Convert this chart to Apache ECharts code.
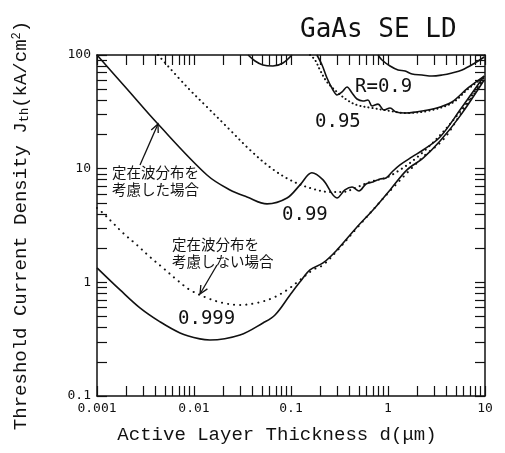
<!DOCTYPE html>
<html><head><meta charset="utf-8">
<script src="https://cdn.jsdelivr.net/npm/echarts@6/dist/echarts.min.js"></script>
<style>html,body{margin:0;padding:0;background:#fff}#c{width:505px;height:453px}</style>
</head><body><div id="c"></div>
<script>
// Tick labels
const xTickLabels = ['0.001', '0.01', '0.1', '1', '10'];
const yTickLabels = ['0.1', '1', '10', '100'];

// Curves: d (um) and Jth (kA/cm^2)
// R = 0.99, with standing-wave distribution (solid)
const r099SolidD = [0.001, 0.00204, 0.00416, 0.0136, 0.0235, 0.0352, 0.0566, 0.091, 0.124, 0.164, 0.214, 0.298, 0.360, 0.426, 0.502, 0.593, 0.700, 0.828, 0.954, 1.10, 1.33, 1.77, 2.30, 3.44, 5.52, 9.8];
const r099SolidJ = [100, 50.2, 25.2, 8.8, 6.5, 5.64, 4.9, 5.52, 7.2, 9.2, 7.96, 5.52, 6.5, 6.9, 6.37, 7.33, 7.64, 8.11, 8.28, 9.35, 10.8, 12.7, 14.6, 19.0, 32.8, 65.3];
// R = 0.99, without standing wave (dotted)
const r099DotD = [0.00426, 0.00847, 0.0136, 0.0235, 0.0378, 0.0608, 0.0977, 0.157, 0.252, 0.344, 0.457, 0.652, 1.05, 2.30, 5.52, 9.8];
const r099DotJ = [100, 52.3, 34.9, 21.9, 14.6, 10.3, 7.96, 6.76, 6.24, 6.24, 6.76, 7.64, 8.64, 14.0, 31.5, 64.1];

// R = 0.999 (solid)
const r0999SolidD = [0.001, 0.00173, 0.00277, 0.00447, 0.00718, 0.0115, 0.0146, 0.0298, 0.0514, 0.0684, 0.0977, 0.124, 0.157, 0.214, 0.298, 0.479, 0.700, 1.05, 1.57, 2.30, 3.44, 5.52, 9.8];
const r0999SolidJ = [1.34, 0.857, 0.596, 0.449, 0.359, 0.318, 0.311, 0.344, 0.439, 0.516, 0.774, 1.01, 1.29, 1.48, 1.93, 3.07, 4.33, 6.5, 9.75, 12.4, 17.5, 29.0, 60.3];
// R = 0.999 (dotted)
const r0999DotD = [0.001, 0.00115, 0.00146, 0.00185, 0.00258, 0.00352, 0.00479, 0.00668, 0.0091, 0.0136, 0.0199, 0.0298, 0.0446, 0.0651, 0.091, 0.124, 0.169, 0.214, 0.298, 0.479, 1.05, 2.30, 3.69, 5.52, 9.8];
const r0999DotJ = [4.51, 4.07, 3.33, 2.72, 2.13, 1.67, 1.34, 1.05, 0.857, 0.730, 0.659, 0.633, 0.659, 0.730, 0.857, 1.05, 1.29, 1.42, 1.89, 3.01, 6.37, 12.7, 17.9, 29.6, 61.5];

// R = 0.95 (solid, two visible parts)
const r095SolidAD = [0.0361, 0.0426, 0.0514, 0.0651, 0.0827, 0.102];
const r095SolidAJ = [100, 88.6, 81.6, 80.0, 85.1, 100];
const r095SolidBD = [0.185, 0.209, 0.235, 0.271, 0.298, 0.336, 0.378, 0.426, 0.479, 0.552, 0.622, 0.684, 0.789, 0.910, 1.05, 1.21, 1.50, 1.94, 2.58, 3.44, 4.57, 6.68, 9.8];
const r095SolidBJ = [100, 81.6, 62.8, 49.2, 44.5, 47.3, 52.3, 46.4, 41.0, 39.4, 40.2, 35.6, 37.0, 32.8, 34.2, 31.5, 30.9, 31.5, 32.8, 34.9, 38.6, 51.3, 65.3];
// R = 0.95 (dotted)
const r095DotD = [0.157, 0.177, 0.199, 0.235, 0.298, 0.378, 0.479, 0.684, 1.05, 1.50, 2.58, 4.57, 6.68, 9.8];
const r095DotJ = [100, 90.4, 73.8, 57.9, 47.3, 40.2, 36.3, 34.2, 32.2, 30.9, 32.2, 37.8, 50.2, 64.1];

// R = 0.9 (solid)
const r09SolidD = [0.789, 0.867, 1.05, 1.27, 1.50, 1.77, 2.24, 2.84, 3.61, 4.57, 5.80, 7.89, 9.8];
const r09SolidJ = [100, 90.4, 80.0, 73.8, 72.3, 68.0, 66.7, 65.3, 66.7, 69.5, 73.8, 85.1, 96];

const zip = (a, b) => a.map((v, i) => [v, b[i]]);

const decades = [0.001, 0.01, 0.1, 1];
const xTicks = [];
decades.forEach(d => { for (let k = 1; k <= 9; k++) xTicks.push(+(k * d).toPrecision(3)); });
xTicks.push(10);
const yTicks = [];
[0.1, 1, 10].forEach(d => { for (let k = 1; k <= 9; k++) yTicks.push(+(k * d).toPrecision(3)); });
yTicks.push(100);

const mono = 'DejaVu Sans Mono';
const black = '#111';

function solid(name, d, j, w) {
  return { name, type: 'line', data: zip(d, j), showSymbol: false, smooth: 0.35, clip: true,
    lineStyle: { color: black, width: w || 1.6 }, z: 3 };
}
function dotted(name, d, j, gap) {
  return { name, type: 'line', data: zip(d, j), showSymbol: false, smooth: 0.35, clip: true,
    lineStyle: { color: black, width: 2, type: [0.1, gap], cap: 'round' }, z: 2 };
}

function axisX(pos, showLabel) {
  return {
    type: 'log', logBase: 10, min: 0.001, max: 10, position: pos,
    axisLine: { show: true, onZero: false, lineStyle: { color: black, width: 1.5 } },
    axisTick: { show: true, inside: true, length: 10, customValues: xTicks, lineStyle: { color: black, width: 1.2 } },
    splitLine: { show: false }, minorTick: { show: false },
    axisLabel: { show: showLabel, color: black, fontFamily: mono, fontSize: 13, margin: 6,
      formatter: v => xTickLabels[Math.round(Math.log10(v)) + 3] },
    name: showLabel ? 'Active Layer Thickness d(μm)' : '',
    nameLocation: 'middle', nameGap: 29,
    nameTextStyle: { fontFamily: 'Liberation Mono', fontSize: 19, color: black, padding: [0, 28, 0, 0] }
  };
}
function axisY(pos, showLabel) {
  return {
    type: 'log', logBase: 10, min: 0.1, max: 100, position: pos,
    axisLine: { show: true, onZero: false, lineStyle: { color: black, width: 1.5 } },
    axisTick: { show: true, inside: true, length: 10, customValues: yTicks, lineStyle: { color: black, width: 1.2 } },
    splitLine: { show: false }, minorTick: { show: false },
    axisLabel: { show: showLabel, color: black, fontFamily: mono, fontSize: 13, margin: 6,
      formatter: v => yTickLabels[Math.round(Math.log10(v)) + 1] },
    name: showLabel ? 'Threshold Current Density J{sub|th}(kA/cm{sup|2})' : '',
    nameLocation: 'middle', nameGap: 66, nameRotate: 90,
    nameTextStyle: { fontFamily: 'Liberation Mono', fontSize: 19, color: black,
      rich: { sub: { fontFamily: 'Liberation Mono', fontSize: 12, color: black, verticalAlign: 'bottom', padding: [8, 0, 0, 0] },
              sup: { fontFamily: 'Liberation Mono', fontSize: 12, color: black, verticalAlign: 'top', padding: [0, 0, 8, 0] } } }
  };
}

function arrow(x1, y1, x2, y2) {
  const dx = x1 - x2, dy = y1 - y2, L = Math.hypot(dx, dy);
  const ux = dx / L, uy = dy / L, a = 25 * Math.PI / 180, s = 9;
  const r = (ang) => [x2 + s * (ux * Math.cos(ang) - uy * Math.sin(ang)), y2 + s * (ux * Math.sin(ang) + uy * Math.cos(ang))];
  return [
    { type: 'line', shape: { x1, y1, x2, y2 }, style: { stroke: black, lineWidth: 1.3 } },
    { type: 'polyline', shape: { points: [r(a), [x2, y2], r(-a)] }, style: { stroke: black, lineWidth: 1.3, fill: null } }
  ];
}

const chart = echarts.init(document.getElementById('c'), null, { renderer: 'canvas' });
chart.setOption({
  animation: false,
  backgroundColor: '#fff',
  grid: { left: 97, right: 20, top: 55, bottom: 57, containLabel: false },
  xAxis: [axisX('bottom', true), axisX('top', false)],
  yAxis: [axisY('left', true), axisY('right', false)],
  series: [
    solid('R=0.99 standing wave', r099SolidD, r099SolidJ),
    dotted('R=0.99 no standing wave', r099DotD, r099DotJ, 5),
    solid('R=0.999 standing wave', r0999SolidD, r0999SolidJ),
    dotted('R=0.999 no standing wave', r0999DotD, r0999DotJ, 6),
    solid('R=0.95 standing wave (a)', r095SolidAD, r095SolidAJ),
    solid('R=0.95 standing wave (b)', r095SolidBD, r095SolidBJ),
    dotted('R=0.95 no standing wave', r095DotD, r095DotJ, 4),
    solid('R=0.9 standing wave', r09SolidD, r09SolidJ)
  ],
  graphic: [
    { type: 'text', left: 300, top: 17, style: { text: 'GaAs SE LD', font: '26px "DejaVu Sans Mono"', fill: black } },
    { type: 'text', left: 112, top: 164, style: { text: '定在波分布を\n考慮した場合', font: '14.5px "Noto Sans CJK JP"', lineHeight: 17, fill: black } },
    { type: 'text', left: 172, top: 236, style: { text: '定在波分布を\n考慮しない場合', font: '14.5px "Noto Sans CJK JP"', lineHeight: 17, fill: black } },
    { type: 'text', left: 282, top: 206, style: { text: '0.99', font: '19px "DejaVu Sans Mono"', fill: black } },
    { type: 'text', left: 178, top: 310, style: { text: '0.999', font: '19px "DejaVu Sans Mono"', fill: black } },
    { type: 'text', left: 315, top: 113, style: { text: '0.95', font: '19px "DejaVu Sans Mono"', fill: black } },
    { type: 'text', left: 355, top: 78, style: { text: 'R=0.9', font: '19px "DejaVu Sans Mono"', fill: black } },
    ...arrow(140, 165, 158, 124),
    ...arrow(217, 265, 200, 294)
  ]
});
</script>
</body></html>
